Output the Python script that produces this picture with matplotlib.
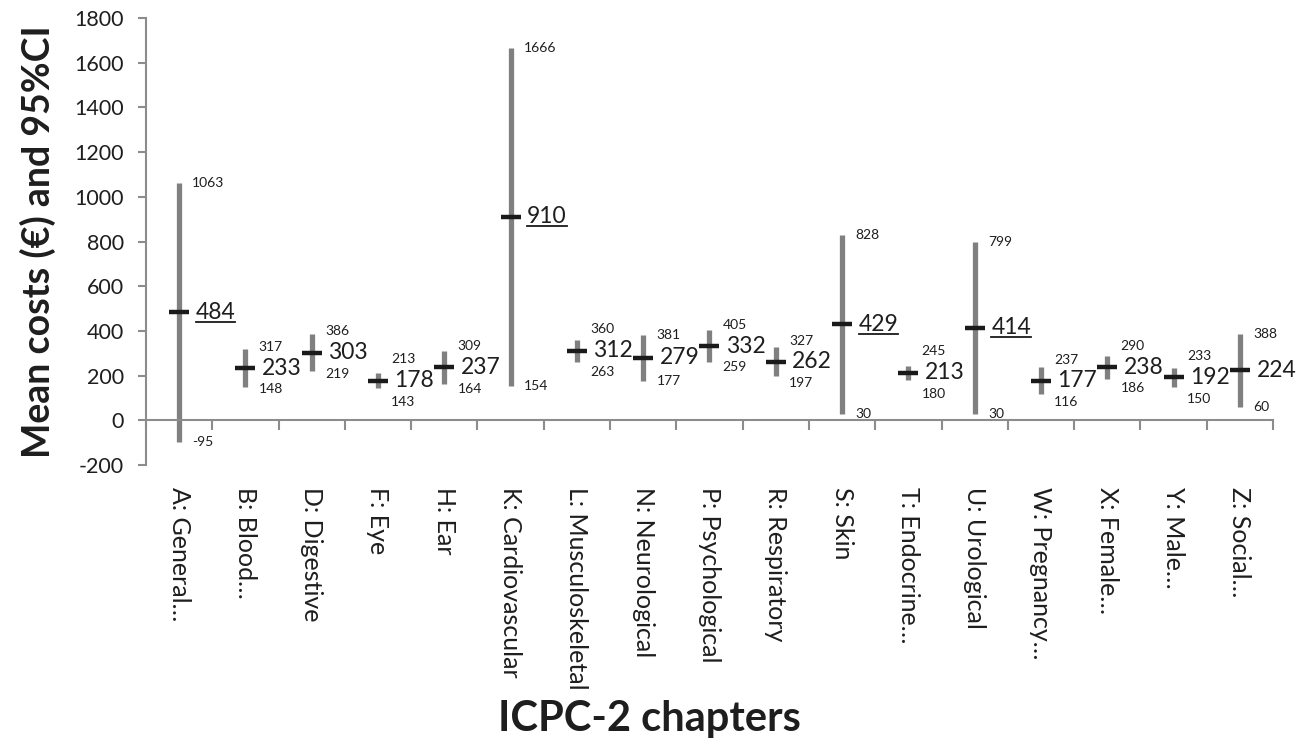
import numpy as np
import matplotlib
matplotlib.use('Agg')
import matplotlib.pyplot as plt

plt.rcParams['font.family'] = ['Lato', 'DejaVu Sans']
plt.rcParams['axes.unicode_minus'] = False

cats = ['A: General…', 'B: Blood…', 'D: Digestive', 'F: Eye', 'H: Ear',
        'K: Cardiovascular', 'L: Musculoskeletal', 'N: Neurological',
        'P: Psychological', 'R: Respiratory', 'S: Skin', 'T: Endocrine…',
        'U: Urological', 'W: Pregnancy…', 'X: Female…', 'Y: Male…', 'Z: Social…']
means = [484, 233, 303, 178, 237, 910, 312, 279, 332, 262, 429, 213, 414, 177, 238, 192, 224]
upper = [1063, 317, 386, 213, 309, 1666, 360, 381, 405, 327, 828, 245, 799, 237, 290, 233, 388]
lower = [-95, 148, 219, 143, 164, 154, 263, 177, 259, 197, 30, 180, 30, 116, 186, 150, 60]
underlined = ['A: General…', 'K: Cardiovascular', 'S: Skin', 'U: Urological']

grey = '#808080'
axgrey = '#8c8c8c'
txt = '#1e1e1e'

fig = plt.figure(figsize=(13.03, 7.46), dpi=100)
ax = fig.add_axes([0.112, 0.3767, 0.865, 0.599])

x = np.arange(len(cats))
ax.vlines(x, lower, upper, color=grey, lw=3.8, zorder=2)
ax.plot(x, means, ls='none', marker='_', ms=14, mew=3.2, color='#1a1a1a', zorder=3)

under_texts = []
for i, c in enumerate(cats):
    t = ax.text(i + 0.25, means[i], str(means[i]), fontsize=16.5, va='center', ha='left',
                color=txt)
    if c in underlined:
        under_texts.append(t)
    yu = max(upper[i], means[i] + 95)
    yl = min(lower[i], means[i] - 95)
    ax.text(i + 0.2, yu, str(upper[i]), fontsize=10, va='center', ha='left', color=txt)
    ax.text(i + 0.2, yl, str(lower[i]), fontsize=10, va='center', ha='left', color=txt)
    ax.text(i, -0.05, c, transform=ax.get_xaxis_transform(), rotation=270,
            ha='center', va='top', fontsize=18, color=txt)

ax.set_xlim(-0.5, len(cats) - 0.5)
ax.set_ylim(-200, 1800)
ax.set_yticks(np.arange(-200, 1801, 200))
ax.set_xticks(np.arange(-0.5, len(cats), 1))
ax.set_xticklabels([])
ax.tick_params(axis='y', labelsize=15.5, colors=axgrey, labelcolor=txt,
               length=6, width=1.5, direction='out', pad=10)
ax.tick_params(axis='x', colors=axgrey, length=7, width=1.5, direction='out')

for s in ['top', 'right']:
    ax.spines[s].set_visible(False)
ax.spines['left'].set_color(axgrey)
ax.spines['left'].set_linewidth(1.5)
ax.spines['bottom'].set_position(('data', 0))
ax.spines['bottom'].set_color(axgrey)
ax.spines['bottom'].set_linewidth(1.5)

ax.set_ylabel('Mean costs (€) and 95%CI', fontsize=27, fontweight='bold', color=txt)
ax.yaxis.set_label_coords(-0.08, 0.5)
ax.set_xlabel('ICPC-2 chapters', fontsize=30, fontweight='bold', color=txt)
ax.xaxis.set_label_coords(0.447, -0.525)

# underline selected mean labels
fig.canvas.draw()
r = fig.canvas.get_renderer()
inv = ax.transData.inverted()
for t in under_texts:
    bb = t.get_window_extent(renderer=r)
    (x0, y0), (x1, _) = inv.transform([(bb.x0, bb.y0 + 1), (bb.x1, bb.y0 + 1)])
    ax.plot([x0, x1], [y0, y0], color='#1a1a1a', lw=1.3, clip_on=False)

fig.savefig('out.png', dpi=100)
